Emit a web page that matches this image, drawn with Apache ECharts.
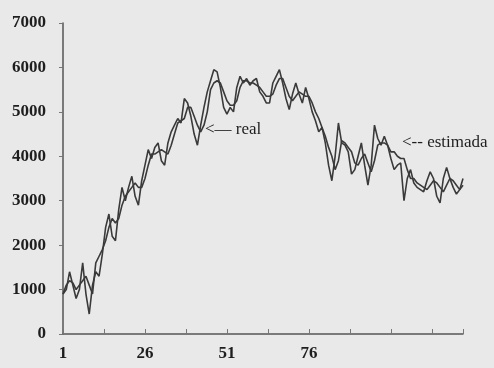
<!DOCTYPE html>
<html>
<head>
<meta charset="utf-8">
<script src="https://cdn.jsdelivr.net/npm/echarts@6/dist/echarts.min.js"></script>
<style>
  html, body { margin: 0; padding: 0; background: #e9e9e9; }
  #chart { width: 494px; height: 368px; }
</style>
</head>
<body>
<div id="chart"></div>
<script>
// Observed series (period 1..123)
const realValues = [
  900, 1000, 1400, 1100, 800, 1000, 1600, 900, 450, 1100,
  1400, 1300, 1800, 2400, 2700, 2200, 2100, 2800, 3300, 3000,
  3300, 3550, 3100, 2900, 3450, 3800, 4150, 3950, 4200, 4300,
  3900, 3800, 4300, 4550, 4700, 4850, 4750, 5300, 5200, 4900,
  4500, 4250, 4700, 5100, 5450, 5700, 5950, 5900, 5550, 5100,
  4950, 5100, 5000, 5550, 5800, 5650, 5750, 5600, 5700, 5750,
  5450, 5350, 5200, 5200, 5650, 5800, 5950, 5650, 5300, 5050,
  5400, 5650, 5400, 5200, 5550, 5300, 5000, 4800, 4550, 4650,
  4300, 3800, 3450, 4000, 4750, 4300, 4250, 4100, 3600, 3700,
  4000, 4300, 3800, 3350, 3800, 4700, 4400, 4250, 4450, 4250,
  3950, 3700, 3800, 3850, 3000, 3500, 3700, 3400, 3300, 3250,
  3200, 3450, 3650, 3500, 3100, 2950, 3500, 3750, 3500, 3300,
  3150, 3250, 3500
];

// Estimated series
const estimadaValues = [
  900, 1100, 1200, 1150, 1000, 1100, 1200, 1300, 1100, 900,
  1600, 1750, 1900, 2100, 2400, 2600, 2500, 2600, 2900, 3100,
  3200, 3300, 3400, 3300, 3300, 3500, 3800, 4050, 4050, 4100,
  4150, 4100, 4050, 4250, 4500, 4750, 4800, 4850, 5100, 5100,
  4900, 4700, 4550, 4700, 5000, 5500, 5650, 5700, 5650, 5450,
  5250, 5150, 5150, 5250, 5550, 5700, 5700, 5650, 5650, 5600,
  5550, 5450, 5350, 5350, 5400, 5600, 5750, 5750, 5550, 5350,
  5250, 5350, 5450, 5400, 5350, 5350, 5200, 5000, 4850, 4650,
  4450, 4200, 4000, 3700, 3900, 4350, 4300, 4200, 4100, 3850,
  3800, 3950, 4050, 3850, 3650, 3900, 4250, 4300, 4300, 4250,
  4100, 4100, 4000, 3950, 3950, 3700, 3500, 3500, 3400, 3350,
  3300, 3250, 3350, 3450, 3400, 3300, 3200, 3350, 3500, 3450,
  3350, 3250, 3350
];

// Period labels shown under the axis
const xTickLabels = [1, 26, 51, 76];
const yTicks = [0, 1000, 2000, 3000, 4000, 5000, 6000, 7000];

const lineColor = '#3a3a3a';
const textColor = '#1e1e1e';
const font = '"Liberation Serif", "DejaVu Serif", serif';

const chart = echarts.init(document.getElementById('chart'));

chart.setOption({
  backgroundColor: '#e9e9e9',
  animation: false,
  grid: { left: 63, right: 31, top: 23, bottom: 34 },
  xAxis: {
    type: 'value',
    min: 0,
    max: realValues.length - 1,
    interval: 12.5,
    splitLine: { show: false },
    axisLine: { lineStyle: { color: '#555', width: 1.5 } },
    axisTick: { inside: true, length: 5, lineStyle: { color: '#777', width: 1 } },
    axisLabel: {
      margin: 11,
      color: textColor,
      fontFamily: font,
      fontSize: 17,
      fontWeight: 'bold',
      formatter: function (v) {
        const lbl = v + 1;
        return xTickLabels.indexOf(lbl) >= 0 ? String(lbl) : '';
      }
    }
  },
  yAxis: {
    type: 'value',
    min: yTicks[0],
    max: yTicks[yTicks.length - 1],
    interval: 1000,
    splitLine: { show: false },
    axisLine: { show: true, lineStyle: { color: '#555', width: 1.5 } },
    axisTick: { show: true, length: 4, lineStyle: { color: '#777' } },
    axisLabel: {
      margin: 17,
      color: textColor,
      fontFamily: font,
      fontSize: 17,
      fontWeight: 'bold',
      formatter: function (v) { return String(v); }
    }
  },
  graphic: [
    {
      type: 'text', left: 205, top: 121,
      style: { text: '<\u2014 real', fill: textColor, font: '17px ' + font }
    },
    {
      type: 'text', left: 402, top: 134,
      style: { text: '<-- estimada', fill: textColor, font: '17px ' + font }
    }
  ],
  series: [
    {
      name: 'real',
      type: 'line',
      symbol: 'none',
      data: realValues.map((v, i) => [i, v]),
      lineStyle: { color: lineColor, width: 1.6 }
    },
    {
      name: 'estimada',
      type: 'line',
      symbol: 'none',
      data: estimadaValues.map((v, i) => [i, v]),
      lineStyle: { color: lineColor, width: 1.6 }
    }
  ]
});
</script>
</body>
</html>
